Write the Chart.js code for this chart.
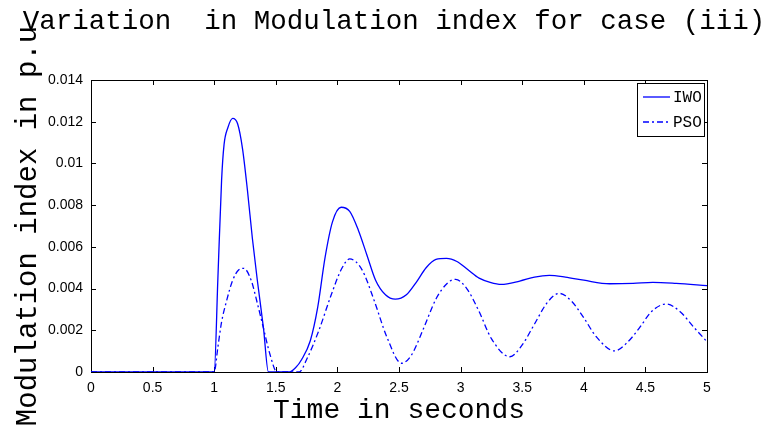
<!DOCTYPE html>
<html>
<head>
<meta charset="utf-8">
<script src="https://cdn.jsdelivr.net/npm/chart.js@4/dist/chart.umd.min.js"></script>
<style>
html, body { margin: 0; padding: 0; background: #fff; }
</style>
</head>
<body>
<canvas id="grafico" width="774" height="429"></canvas>
<script>
// DADOS
const tempoIWO = [0, 1.0, 1.03, 1.06, 1.08, 1.11, 1.15, 1.19, 1.23, 1.27, 1.31, 1.35, 1.4, 1.44, 1.5, 1.61, 1.66, 1.71, 1.78, 1.84, 1.9, 1.96, 2.03, 2.1, 2.17, 2.24, 2.31, 2.39, 2.47, 2.56, 2.64, 2.72, 2.8, 2.885, 2.97, 3.06, 3.15, 3.24, 3.33, 3.48, 3.6, 3.72, 3.85, 4.0, 4.21, 4.4, 4.56, 4.75, 5.0];
const valorIWO  = [0, 0, 0.0045, 0.0092, 0.0109, 0.0117, 0.01216, 0.0119, 0.0107, 0.0087, 0.0064, 0.0044, 0.0021, 0, 0, 0, 0.0002, 0.0006, 0.0015, 0.0031, 0.0055, 0.0072, 0.0079, 0.0077, 0.0068, 0.0056, 0.0044, 0.0037, 0.00349, 0.0037, 0.0043, 0.0050, 0.0054, 0.00545, 0.0053, 0.0049, 0.0045, 0.0043, 0.0042, 0.00436, 0.00455, 0.00463, 0.00455, 0.0044, 0.00423, 0.00425, 0.0043, 0.00425, 0.00414];

const tempoPSO = [0, 1.0, 1.03, 1.06, 1.1, 1.15, 1.2, 1.24, 1.3, 1.35, 1.4, 1.45, 1.51, 1.6, 1.69, 1.75, 1.85, 1.95, 2.03, 2.1, 2.2, 2.3, 2.4, 2.52, 2.6, 2.7, 2.8, 2.9, 2.96, 3.05, 3.15, 3.25, 3.4, 3.5, 3.6, 3.7, 3.8, 3.9, 4.0, 4.1, 4.25, 4.35, 4.45, 4.55, 4.67, 4.78, 4.9, 5.0];
const valorPSO  = [0, 0, 0.0012, 0.0024, 0.0034, 0.0044, 0.0049, 0.00497, 0.0044, 0.0033, 0.0021, 0.0009, 0, 0, 0, 0.0006, 0.0020, 0.0037, 0.0049, 0.00542, 0.0049, 0.0034, 0.0017, 0.00042, 0.0008, 0.0021, 0.0035, 0.0043, 0.00444, 0.0040, 0.0029, 0.0016, 0.00073, 0.0013, 0.0023, 0.0033, 0.00377, 0.0034, 0.0026, 0.0017, 0.00101, 0.0014, 0.0021, 0.0029, 0.00326, 0.0029, 0.0021, 0.00145];

const ticksX = [0, 0.5, 1, 1.5, 2, 2.5, 3, 3.5, 4, 4.5, 5];
const rotulosX = ['0', '0.5', '1', '1.5', '2', '2.5', '3', '3.5', '4', '4.5', '5'];
const ticksY = [0, 0.002, 0.004, 0.006, 0.008, 0.01, 0.012, 0.014];
const rotulosY = ['0', '0.002', '0.004', '0.006', '0.008', '0.01', '0.012', '0.014'];

const pontos = (t, v) => t.map((x, i) => ({ x: x, y: v[i] }));
const MONO = "'Liberation Mono', 'DejaVu Sans Mono', monospace";
const SANS = "'Liberation Sans', Arial, sans-serif";

// MOLDURA COM TICKS PARA DENTRO
const moldura = {
    id: 'moldura',
    beforeDatasetsDraw(chart) {
        const { ctx, chartArea: a, scales } = chart;
        ctx.save();
        ctx.strokeStyle = '#000';
        ctx.lineWidth = 1;
        ctx.strokeRect(Math.round(a.left) + 0.5, Math.round(a.top) + 0.5, Math.round(a.right - a.left), Math.round(a.bottom - a.top));
        ctx.beginPath();
        scales.x.ticks.forEach(t => {
            const px = Math.round(scales.x.getPixelForValue(t.value)) + 0.5;
            ctx.moveTo(px, a.bottom); ctx.lineTo(px, a.bottom - 5);
            ctx.moveTo(px, a.top); ctx.lineTo(px, a.top + 5);
        });
        scales.y.ticks.forEach(t => {
            const py = Math.round(scales.y.getPixelForValue(t.value)) + 0.5;
            ctx.moveTo(a.left, py); ctx.lineTo(a.left + 5, py);
            ctx.moveTo(a.right, py); ctx.lineTo(a.right - 5, py);
        });
        ctx.stroke();
        ctx.restore();
    }
};

// LEGENDA DENTRO DO GRÁFICO
const legendaCaixa = {
    id: 'legendaCaixa',
    afterDraw(chart) {
        const { ctx, chartArea: a } = chart;
        const w = 67, h = 53;
        const x0 = Math.round(a.right) - 70, y0 = Math.round(a.top) + 3;
        ctx.save();
        ctx.fillStyle = '#fff';
        ctx.fillRect(x0, y0, w, h);
        ctx.strokeStyle = '#000';
        ctx.lineWidth = 1;
        ctx.strokeRect(x0 + 0.5, y0 + 0.5, w, h);
        chart.data.datasets.forEach((ds, i) => {
            const y = y0 + 14 + i * 25;
            ctx.strokeStyle = ds.borderColor;
            ctx.lineWidth = ds.borderWidth;
            ctx.setLineDash(ds.borderDash || []);
            ctx.beginPath();
            ctx.moveTo(x0 + 6, y); ctx.lineTo(x0 + 33, y);
            ctx.stroke();
            ctx.setLineDash([]);
            ctx.fillStyle = '#000';
            ctx.font = '16px ' + MONO;
            ctx.textAlign = 'left';
            ctx.textBaseline = 'middle';
            ctx.fillText(ds.label, x0 + 36, y + 1);
        });
        ctx.restore();
    }
};

const ctx = document.getElementById('grafico').getContext('2d');
new Chart(ctx, {
    type: 'line',
    data: {
        datasets: [
            {
                label: 'IWO',
                data: pontos(tempoIWO, valorIWO),
                borderColor: '#0000ff',
                borderWidth: 1.3,
                pointRadius: 0,
                cubicInterpolationMode: 'monotone',
                fill: false
            },
            {
                label: 'PSO',
                data: pontos(tempoPSO, valorPSO),
                borderColor: '#0000ff',
                borderWidth: 1.3,
                borderDash: [6, 3, 2, 3],
                pointRadius: 0,
                cubicInterpolationMode: 'monotone',
                fill: false
            }
        ]
    },
    options: {
        responsive: false,
        animation: false,
        layout: { padding: { left: 14, right: 0, top: 0, bottom: 0 } },
        plugins: {
            legend: { display: false },
            tooltip: { enabled: false },
            title: {
                display: true,
                text: 'Variation  in Modulation index for case (iii)',
                color: '#000',
                font: { family: MONO, size: 27.5, weight: 'normal', lineHeight: 1 },
                padding: { top: 8, bottom: 44.5 }
            }
        },
        scales: {
            x: {
                type: 'linear',
                position: 'bottom',
                min: 0, max: 5,
                afterBuildTicks: s => { s.ticks = ticksX.map(v => ({ value: v })); },
                afterFit: s => { s.height = 57; },
                ticks: {
                    color: '#000',
                    font: { family: SANS, size: 14 },
                    padding: 8,
                    maxRotation: 0,
                    callback: (v) => rotulosX[ticksX.indexOf(v)]
                },
                grid: { display: false, drawTicks: false },
                border: { display: false },
                title: {
                    display: true,
                    text: 'Time in seconds',
                    color: '#000',
                    font: { family: MONO, size: 28, lineHeight: 1 },
                    padding: { top: 0, bottom: 4 }
                }
            },
            y: {
                type: 'linear',
                position: 'left',
                min: 0, max: 0.014,
                afterBuildTicks: s => { s.ticks = ticksY.map(v => ({ value: v })); },
                afterFit: s => { s.width = 77; },
                ticks: {
                    color: '#000',
                    font: { family: SANS, size: 14 },
                    padding: 8,
                    callback: (v) => rotulosY[ticksY.indexOf(v)]
                },
                grid: { display: false, drawTicks: false },
                border: { display: false },
                title: {
                    display: true,
                    text: 'Modulation index in p.u',
                    color: '#000',
                    font: { family: MONO, size: 29, lineHeight: 1 },
                    padding: 0
                }
            },
            y2: {
                type: 'linear',
                position: 'right',
                min: 0, max: 1,
                afterFit: s => { s.width = 67; },
                ticks: { display: false },
                grid: { display: false, drawTicks: false },
                border: { display: false }
            }
        }
    },
    plugins: [moldura, legendaCaixa]
});
</script>
</body>
</html>
